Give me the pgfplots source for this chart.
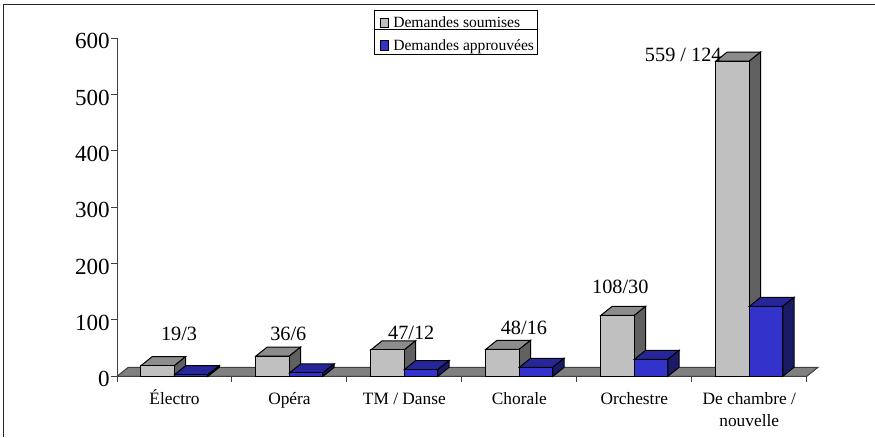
\documentclass[border=0pt]{standalone}
\usepackage{pgfplots}
\pgfplotsset{compat=1.18}
\usepackage{fontspec}
\setmainfont{Liberation Serif}
\definecolor{grayfront}{HTML}{C0C0C0}
\definecolor{graytop}{HTML}{8C8C8C}
\definecolor{grayside}{HTML}{606060}
\definecolor{bluefront}{HTML}{3333CC}
\definecolor{bluetop}{HTML}{262699}
\definecolor{blueside}{HTML}{1A1A66}
\definecolor{floorc}{HTML}{808080}
\definecolor{axisc}{HTML}{404040}
\newcommand{\dx}{0.098}
\newcommand{\dy}{16}
% #1 left x, #2 right x, #3 value, #4 top colour, #5 side colour
\newcommand{\barcap}[5]{%
  \addplot[fill=#4,draw=black,line width=0.75pt,forget plot] coordinates {(#1,#3) (#2,#3) ({#2+\dx},{#3+\dy}) ({#1+\dx},{#3+\dy})} --cycle;
  \addplot[fill=#5,draw=black,line width=0.75pt,forget plot] coordinates {(#2,0) ({#2+\dx},\dy) ({#2+\dx},{#3+\dy}) (#2,#3)} --cycle;
}
\begin{document}
\begin{tikzpicture}[x=0.75pt,y=0.75pt]
\path[use as bounding box] (0,0) rectangle (875,437);
\draw[black!85,line width=1.1pt] (3.7,0) -- (3.7,432.7) -- (875,432.7);
\begin{axis}[
  at={(87.75pt,45.5pt)},anchor=south west,
  scale only axis,
  width=517.3pt,height=253.7pt,
  xmin=0,xmax=6,ymin=0,ymax=600,
  clip=false,
  axis x line=bottom,axis y line=left,
  axis line style={-,axisc,line width=0.75pt},
  xtick={0.5,1.5,2.5,3.5,4.5,5.5},
  xticklabels={Électro,Opéra,TM / Danse,Chorale,Orchestre,{De chambre /\\nouvelle}},
  typeset ticklabels with strut,
  minor xtick={0,1,2,3,4,5,6},
  ytick={0,100,200,300,400,500,600},
  tick style={axisc,line width=0.75pt},
  major x tick style={draw=none},
  minor tick length=4pt,
  major tick length=4.5pt,
  tick align=outside,
  tick pos=left,
  x tick label style={font=\fontsize{13}{16.5}\selectfont,align=center,text=black,yshift=-1.6pt,anchor=north},
  y tick label style={font=\fontsize{17.3}{17.3}\selectfont,text=black,xshift=2.5pt,yshift=-4.5pt,anchor=east},
  /pgf/number format/assume math mode=true,
]
% floor
\addplot[fill=floorc,draw=axisc,line width=0.75pt,forget plot] coordinates {(0,0) (6,0) (6.098,16) (0.098,16)} --cycle;
% submitted: caps, then fronts
\barcap{0.2085}{0.5}{19}{graytop}{grayside}
\barcap{1.2085}{1.5}{36}{graytop}{grayside}
\barcap{2.2085}{2.5}{47}{graytop}{grayside}
\barcap{3.2085}{3.5}{48}{graytop}{grayside}
\barcap{4.2085}{4.5}{108}{graytop}{grayside}
\barcap{5.2085}{5.5}{559}{graytop}{grayside}
\addplot[ybar,bar width=25.13pt,bar shift=-12.57pt,fill=grayfront,draw=black,line width=0.75pt,forget plot]
  coordinates {(0.5,19) (1.5,36) (2.5,47) (3.5,48) (4.5,108) (5.5,559)};
% approved
\barcap{0.5}{0.7915}{3}{bluetop}{blueside}
\barcap{1.5}{1.7915}{6}{bluetop}{blueside}
\barcap{2.5}{2.7915}{12}{bluetop}{blueside}
\barcap{3.5}{3.7915}{16}{bluetop}{blueside}
\barcap{4.5}{4.7915}{30}{bluetop}{blueside}
\barcap{5.5}{5.7915}{124}{bluetop}{blueside}
\addplot[ybar,bar width=25.13pt,bar shift=12.57pt,fill=bluefront,draw=black,line width=0.75pt,forget plot]
  coordinates {(0.5,3) (1.5,6) (2.5,12) (3.5,16) (4.5,30) (5.5,124)};
% data labels
\begin{scope}[every node/.style={font=\fontsize{15.2}{17}\selectfont,inner sep=0pt,text=black}]
\node at (axis cs:0.54,75) {19/3};
\node at (axis cs:1.49,75) {36/6};
\node at (axis cs:2.56,77) {47/12};
\node at (axis cs:3.54,86) {48/16};
\node at (axis cs:4.378,158) {108/30};
\node at (axis cs:4.926,571) {559 / 124};
\end{scope}
\end{axis}
% legend
\draw[black,line width=0.75pt,fill=white] (374.7,382.7) rectangle (537.7,427);
\draw[black,line width=0.75pt] (374.7,407.7) -- (537.7,407.7);
\draw[black,line width=0.6pt,fill=grayfront] (380,409.7) rectangle (388.7,418.7);
\draw[black,line width=0.6pt,fill=bluefront] (380,387) rectangle (388.7,397);
\node[anchor=base west,inner sep=0pt,font=\fontsize{11.7}{14}\selectfont] at (393,409.3) {Demandes soumises};
\node[anchor=base west,inner sep=0pt,font=\fontsize{11.7}{14}\selectfont] at (393,387) {Demandes approuvées};
\end{tikzpicture}
\end{document}
